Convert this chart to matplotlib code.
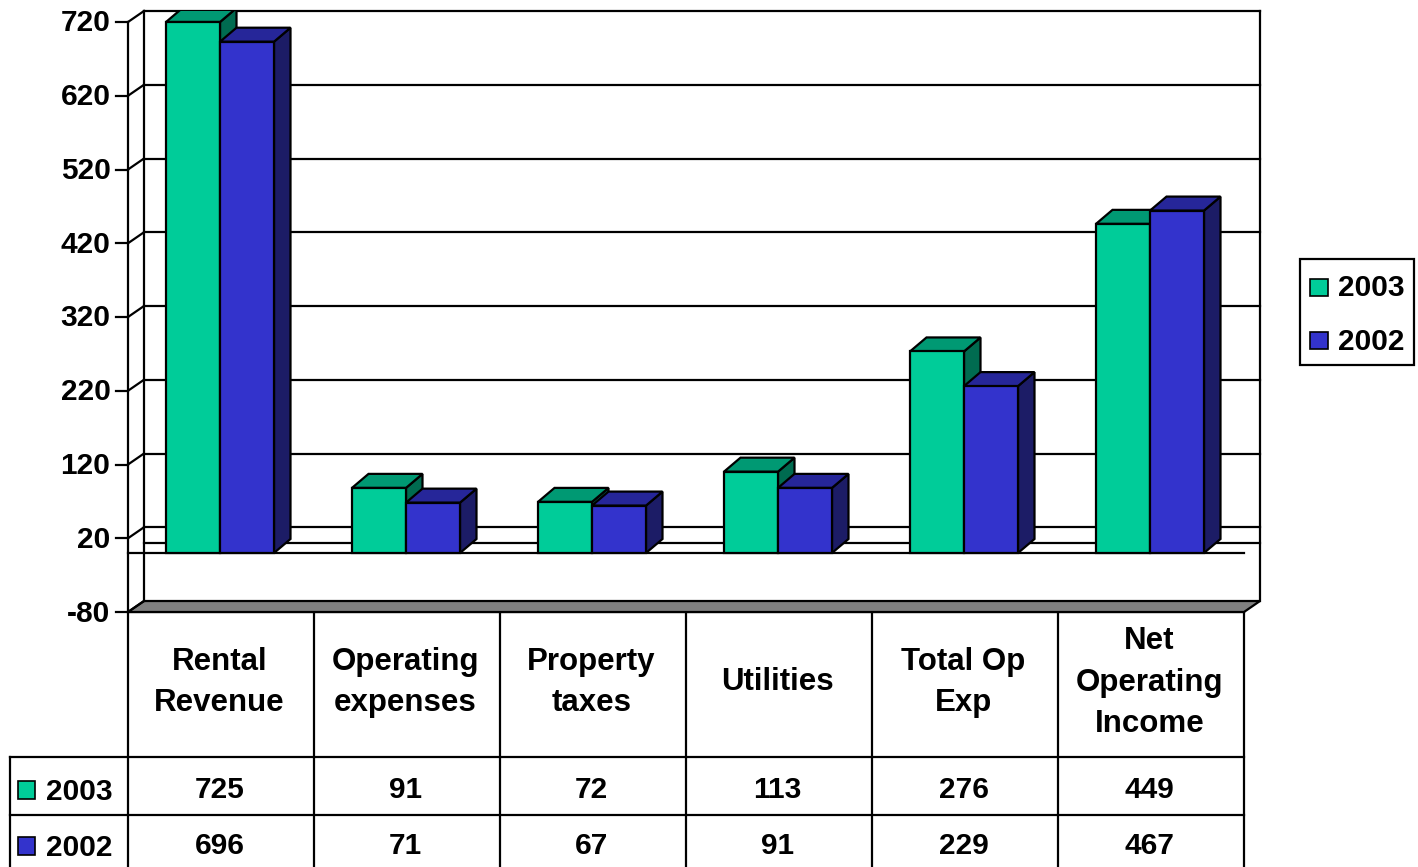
import matplotlib
matplotlib.use("Agg")
import matplotlib.pyplot as plt
from matplotlib.patches import Polygon, Rectangle

plt.rcParams['font.family'] = ['Liberation Sans', 'DejaVu Sans']
plt.rcParams['font.weight'] = 'bold'

categories = ["Rental\nRevenue", "Operating\nexpenses", "Property\ntaxes",
              "Utilities", "Total Op\nExp", "Net\nOperating\nIncome"]
values_2003 = [725, 91, 72, 113, 276, 449]
values_2002 = [696, 71, 67, 91, 229, 467]
series_names = ["2003", "2002"]
y_ticks = [-80, 20, 120, 220, 320, 420, 520, 620, 720]

W, H = 1418, 867
GREEN = ("#00CC99", "#009973", "#006B50")
BLUE = ("#3333CC", "#262699", "#1C1C66")
LW = 1.6
FS = 21.5
FS_CAT = 22.5

fig = plt.figure(figsize=(W / 100, H / 100), dpi=100, facecolor="white")

# page-level axes in pixels, for frame, table and legend
page = fig.add_axes([0, 0, 1, 1])
page.set_xlim(0, W)
page.set_ylim(H, 0)
page.axis("off")

# plot axes: front plane scale, extended by depth to the right and top
LEFT, RIGHT, TOP, BOTTOM = 128, 1260, 11, 612
CAT_W = 186.0
PX_PER_UNIT = 0.7375
DEPTH_X, DEPTH_Y = 16, 11
ax = fig.add_axes([LEFT / W, 1 - BOTTOM / H, (RIGHT - LEFT) / W, (BOTTOM - TOP) / H])
ax.set_xlim(0, (RIGHT - LEFT) / CAT_W)
ax.set_ylim(-80, 720 + (22 - TOP) / PX_PER_UNIT)
ax.axis("off")
ax.patch.set_alpha(0)

wx = DEPTH_X / CAT_W
wy = DEPTH_Y / PX_PER_UNIT
n = len(categories)


def line(a, xs, ys, **kw):
    a.plot(xs, ys, color="black", lw=LW, solid_capstyle="projecting",
           clip_on=False, **kw)


# floor
ax.add_patch(Polygon([(0, -80), (wx, -80 + wy), (n + wx, -80 + wy), (n, -80)],
                     closed=True, fc="#808080", ec="black", lw=LW, clip_on=False))
# walls
line(ax, [wx, wx], [-80 + wy, 720 + wy])
line(ax, [wx, n + wx], [720 + wy, 720 + wy])
line(ax, [n + wx, n + wx], [-80 + wy, 720 + wy])
line(ax, [0, 0], [-80, 720])
# gridlines, ticks, tick labels
for t in y_ticks:
    if -80 < t < 720:
        line(ax, [wx, n + wx], [t + wy, t + wy])
    line(ax, [0, wx], [t, t + wy])
    line(ax, [-12 / CAT_W, 0], [t, t])
    ax.text(-17.5 / CAT_W, t + 1.5 / PX_PER_UNIT, str(t), ha="right", va="center_baseline",
            fontsize=FS, fontweight="bold", clip_on=False)
# zero line on wall and front baseline
line(ax, [wx, n + wx], [wy - 1 / PX_PER_UNIT, wy - 1 / PX_PER_UNIT])
line(ax, [0, n], [0, 0])

# bars
BAR_W = 54 / CAT_W
BAR_SHIFT = 1 / CAT_W
TOP_INSET = 2 / PX_PER_UNIT
bx = 16.5 / CAT_W
by = 14 / PX_PER_UNIT


def bar3d(x0, v, cols, z):
    v = min(v - TOP_INSET, 720)
    x1 = x0 + BAR_W
    ax.add_patch(Polygon([(x1, 0), (x1 + bx, by), (x1 + bx, v + by), (x1, v)],
                         closed=True, fc=cols[2], ec="black", lw=LW, zorder=z))
    ax.add_patch(Polygon([(x0, v), (x0 + bx, v + by), (x1 + bx, v + by), (x1, v)],
                         closed=True, fc=cols[1], ec="black", lw=LW, zorder=z))
    ax.add_patch(Rectangle((x0, 0), BAR_W, v, fc=cols[0], ec="black", lw=LW, zorder=z))


for i in range(n):
    c = i + 0.5 - BAR_SHIFT
    bar3d(c - BAR_W, values_2003[i], GREEN, 3 + i * 2)
    bar3d(c, values_2002[i], BLUE, 4 + i * 2)

# table
cols_px = [LEFT + CAT_W * i for i in range(n + 1)]
for x in cols_px:
    line(page, [x, x], [BOTTOM, H + 5])
line(page, [LEFT, cols_px[-1]], [BOTTOM, BOTTOM])
line(page, [10, cols_px[-1]], [757, 757])
line(page, [10, cols_px[-1]], [815, 815])
line(page, [10, 10], [757, H + 5])

for i, name in enumerate(categories):
    page.text(cols_px[i] + CAT_W / 2 - 1.5, 682.5, name, ha="center", va="center",
              fontsize=FS_CAT, fontweight="bold", linespacing=1.51)
for row_y, vals in ((787.5, values_2003), (843.5, values_2002)):
    for i, v in enumerate(vals):
        page.text(cols_px[i] + CAT_W / 2 - 1.5, row_y, str(v), ha="center",
                  va="center_baseline", fontsize=FS, fontweight="bold")

for y, name, cols in ((790, series_names[0], GREEN), (846, series_names[1], BLUE)):
    page.add_patch(Rectangle((18, y - 9), 17, 18, fc=cols[0], ec="black", lw=1.2))
    page.text(46, y - 1, name, ha="left", va="center_baseline", fontsize=FS, fontweight="bold")

# legend
page.add_patch(Rectangle((1300, 259), 114, 106, fc="white", ec="black", lw=LW))
for y, name, cols in ((287, series_names[0], GREEN), (340, series_names[1], BLUE)):
    page.add_patch(Rectangle((1310, y - 8), 18, 17, fc=cols[0], ec="black", lw=1.2))
    page.text(1338, y - 1.5, name, ha="left", va="center_baseline", fontsize=FS, fontweight="bold")

fig.savefig("out.png", dpi=100)
